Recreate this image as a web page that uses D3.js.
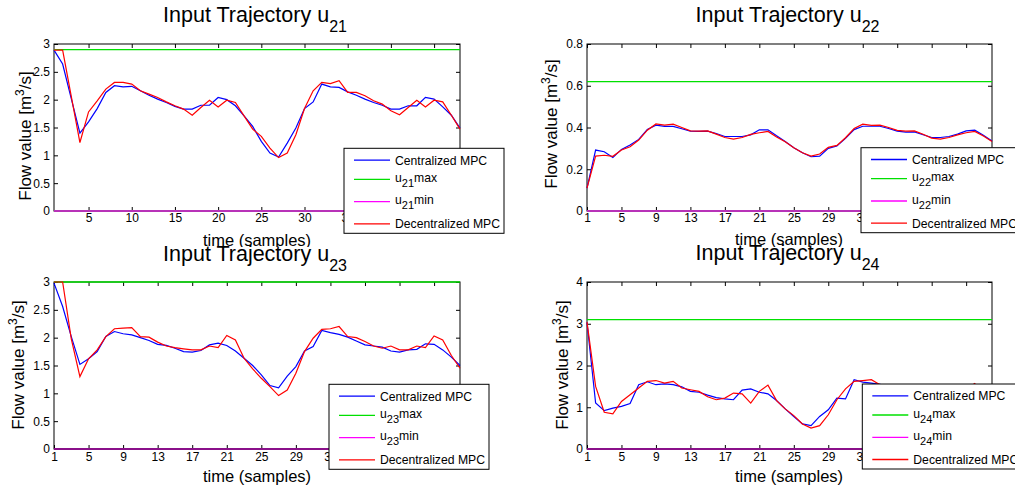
<!DOCTYPE html>
<html>
<head>
<meta charset="utf-8">
<script src="https://cdn.jsdelivr.net/npm/d3@7"></script>
<style>
  body { margin: 0; background: #fff; }
  svg { display: block; font-family: "Liberation Sans", Arial, Helvetica, sans-serif; }
</style>
</head>
<body>
<svg id="chart" width="1015" height="488"></svg>
<script>
// values, one entry per sample (1..48)
const cen21 = [2.89, 2.64, 2.02, 1.40, 1.60, 1.84, 2.13, 2.25, 2.23, 2.24, 2.16, 2.08, 2.01, 1.95, 1.88, 1.83,
  1.83, 1.90, 1.90, 2.04, 2.00, 1.89, 1.71, 1.52, 1.25, 1.04, 0.97, 1.22, 1.49, 1.84, 1.96, 2.28,
  2.23, 2.22, 2.14, 2.08, 2.01, 1.95, 1.90, 1.83, 1.83, 1.89, 1.89, 2.04, 2.01, 1.87, 1.72, 1.49];
const dec21 = [2.89, 2.89, 2.06, 1.23, 1.78, 1.98, 2.19, 2.31, 2.31, 2.28, 2.16, 2.10, 2.04, 1.96, 1.89, 1.83,
  1.72, 1.86, 1.99, 1.87, 1.99, 1.95, 1.71, 1.47, 1.34, 1.13, 0.96, 1.04, 1.37, 1.84, 2.16, 2.31,
  2.29, 2.34, 2.13, 2.13, 2.07, 1.98, 1.92, 1.80, 1.73, 1.86, 1.99, 1.87, 1.99, 1.96, 1.72, 1.47];

const cen22 = [0.110, 0.292, 0.284, 0.256, 0.295, 0.316, 0.343, 0.390, 0.411, 0.405, 0.405, 0.394, 0.383, 0.381, 0.383, 0.371,
  0.357, 0.357, 0.357, 0.365, 0.389, 0.389, 0.360, 0.333, 0.303, 0.279, 0.260, 0.263, 0.300, 0.311, 0.348, 0.390,
  0.406, 0.406, 0.406, 0.395, 0.383, 0.378, 0.379, 0.365, 0.352, 0.352, 0.357, 0.368, 0.384, 0.387, 0.363, 0.335];
const dec22 = [0.110, 0.263, 0.267, 0.262, 0.292, 0.308, 0.340, 0.387, 0.417, 0.411, 0.416, 0.400, 0.384, 0.383, 0.384, 0.368,
  0.352, 0.344, 0.352, 0.367, 0.375, 0.381, 0.354, 0.332, 0.303, 0.279, 0.263, 0.273, 0.305, 0.314, 0.351, 0.395,
  0.416, 0.410, 0.411, 0.400, 0.386, 0.383, 0.384, 0.368, 0.349, 0.344, 0.352, 0.365, 0.375, 0.381, 0.359, 0.333];

const cen23 = [2.98, 2.56, 2.02, 1.52, 1.62, 1.75, 2.02, 2.11, 2.07, 2.05, 2.00, 1.95, 1.88, 1.86, 1.81, 1.75,
  1.74, 1.77, 1.87, 1.90, 1.86, 1.76, 1.63, 1.50, 1.33, 1.14, 1.10, 1.31, 1.48, 1.76, 1.84, 2.13,
  2.09, 2.06, 2.01, 1.94, 1.87, 1.85, 1.83, 1.76, 1.74, 1.78, 1.79, 1.89, 1.88, 1.78, 1.65, 1.50];
const dec23 = [3.00, 3.00, 1.98, 1.30, 1.62, 1.78, 2.02, 2.16, 2.17, 2.18, 2.02, 2.01, 1.92, 1.85, 1.82, 1.80,
  1.78, 1.78, 1.85, 1.82, 2.04, 1.96, 1.63, 1.44, 1.27, 1.12, 0.96, 1.06, 1.36, 1.75, 1.99, 2.15,
  2.16, 2.20, 2.02, 2.00, 1.93, 1.85, 1.81, 1.85, 1.78, 1.78, 1.85, 1.82, 2.03, 1.96, 1.68, 1.45];

const cen24 = [3.03, 1.10, 0.92, 0.98, 1.02, 1.09, 1.54, 1.61, 1.54, 1.56, 1.54, 1.49, 1.38, 1.36, 1.29, 1.23,
  1.20, 1.18, 1.41, 1.44, 1.36, 1.32, 1.16, 0.96, 0.78, 0.60, 0.56, 0.78, 0.94, 1.22, 1.20, 1.66,
  1.60, 1.58, 1.55, 1.50, 1.42, 1.38, 1.35, 1.28, 1.22, 1.25, 1.30, 1.30, 1.45, 1.48, 1.30, 1.00];
const dec24 = [3.04, 1.50, 0.88, 0.84, 1.14, 1.30, 1.46, 1.62, 1.64, 1.58, 1.62, 1.46, 1.42, 1.38, 1.25, 1.18,
  1.22, 1.34, 1.32, 1.10, 1.38, 1.53, 1.16, 0.96, 0.80, 0.60, 0.50, 0.56, 0.82, 1.18, 1.44, 1.62,
  1.64, 1.66, 1.54, 1.48, 1.40, 1.36, 1.30, 1.22, 1.18, 1.26, 1.34, 1.28, 1.45, 1.57, 1.25, 0.98];

const inputNames = ['21', '22', '23', '24'];
const uMax = [2.9, 0.62, 3.0, 3.1];
const uMin = [0, 0, 0, 0];
const legendLabels = ['Centralized MPC', 'max', 'min', 'Decentralized MPC'];

const xTicksBy5 = [5, 10, 15, 20, 25, 30, 35, 40, 45];
const xTicksBy4 = [1, 5, 9, 13, 17, 21, 25, 29, 33, 37, 41, 45];
const yTicks3 = [0, 0.5, 1, 1.5, 2, 2.5, 3];
const yTicks08 = [0, 0.2, 0.4, 0.6, 0.8];
const yTicks4 = [0, 1, 2, 3, 4];

const svg = d3.select('#chart');

const panels = [
  {i: 0, cen: cen21, dec: dec21, yMax: 3, yTicks: yTicks3, xTicks: xTicksBy5,
   box: [54, 44, 460, 211], titleY: 22, ylab: [31, 136], xlab: [257, 246], leg: [344, 148.3], pad: 2, minColor: '#b833b8'},
  {i: 1, cen: cen22, dec: dec22, yMax: 0.8, yTicks: yTicks08, xTicks: xTicksBy4,
   box: [587, 44, 992, 211], titleY: 22, ylab: [557, 124], xlab: [789, 245], leg: [861, 147.7], pad: 2, minColor: '#b833b8'},
  {i: 2, cen: cen23, dec: dec23, yMax: 3, yTicks: yTicks3, xTicks: xTicksBy4,
   box: [54, 282, 460, 449], titleY: 261, ylab: [24, 365], xlab: [257, 482], leg: [329, 384.3], pad: 3, minColor: '#8a108a'},
  {i: 3, cen: cen24, dec: dec24, yMax: 4, yTicks: yTicks4, xTicks: xTicksBy4,
   box: [587, 282, 992, 449], titleY: 260, ylab: [568, 365], xlab: [789, 482], leg: [862.3, 384], pad: 3, minColor: '#8a108a'}
];

function drawPanel(p) {
  const [x0, y0, x1, y1] = p.box;
  const name = inputNames[p.i];
  const x = d3.scaleLinear().domain([1, 48]).range([x0, x1]);
  const y = d3.scaleLinear().domain([0, p.yMax]).range([y1, y0]);
  const g = svg.append('g');

  g.append('rect')
    .attr('x', x0).attr('y', y0).attr('width', x1 - x0).attr('height', y1 - y0)
    .attr('fill', '#fff').attr('stroke', '#000').attr('stroke-width', 1);

  const yFmt = d => (p.yMax === 0.8 ? d3.format('.1f')(d).replace(/^0\.0$/, '0') : String(d));

  const axB = g.append('g').attr('transform', `translate(0,${y1})`)
    .call(d3.axisBottom(x).tickValues(p.xTicks).tickSize(-4).tickPadding(p.pad).tickFormat(d3.format('d')));
  const axT = g.append('g').attr('transform', `translate(0,${y0})`)
    .call(d3.axisTop(x).tickValues(p.xTicks).tickSize(-4).tickFormat(''));
  const axL = g.append('g').attr('transform', `translate(${x0},0)`)
    .call(d3.axisLeft(y).tickValues(p.yTicks).tickSize(-4).tickPadding(4).tickFormat(yFmt));
  const axR = g.append('g').attr('transform', `translate(${x1},0)`)
    .call(d3.axisRight(y).tickValues(p.yTicks).tickSize(-4).tickFormat(''));
  [axB, axT, axL, axR].forEach(a => {
    a.select('.domain').remove();
    a.attr('font-family', null).attr('font-size', null);
    a.selectAll('text').attr('font-size', 12).attr('fill', '#000');
    a.selectAll('line').attr('stroke', '#000');
  });

  const line = d3.line().x((d, k) => x(k + 1)).y(d => y(d));

  g.append('path').datum(p.cen).attr('d', line)
    .attr('fill', 'none').attr('stroke', '#0000ff').attr('stroke-width', 1.2);
  g.append('line')
    .attr('x1', x(1)).attr('x2', x(48)).attr('y1', y(uMax[p.i])).attr('y2', y(uMax[p.i]))
    .attr('stroke', '#00e000').attr('stroke-width', 1.3);
  g.append('line')
    .attr('x1', x(1)).attr('x2', x(48)).attr('y1', y(uMin[p.i])).attr('y2', y(uMin[p.i]))
    .attr('stroke', p.minColor).attr('stroke-width', 2.2);
  g.append('path').datum(p.dec).attr('d', line)
    .attr('fill', 'none').attr('stroke', '#ff0000').attr('stroke-width', 1.2);

  // title with subscript
  const t = g.append('text')
    .attr('x', (x0 + x1) / 2 - 2).attr('y', p.titleY)
    .attr('text-anchor', 'middle').attr('font-size', 21.5).attr('fill', '#000');
  t.append('tspan').text('Input Trajectory u');
  t.append('tspan').attr('dy', 10).attr('font-size', 16).text(name);

  // y label with superscript
  const yl = g.append('text')
    .attr('transform', `translate(${p.ylab[0]},${p.ylab[1]}) rotate(-90)`)
    .attr('text-anchor', 'middle').attr('font-size', 17).attr('fill', '#000');
  yl.append('tspan').text('Flow value [m');
  yl.append('tspan').attr('dy', -7).attr('font-size', 12).text('3');
  yl.append('tspan').attr('dy', 7).text('/s]');

  g.append('text')
    .attr('x', p.xlab[0]).attr('y', p.xlab[1])
    .attr('text-anchor', 'middle').attr('font-size', 16.5).attr('fill', '#000')
    .text('time (samples)');

  // legend
  const [lx, ly] = p.leg;
  const lg = g.append('g');
  lg.append('rect').attr('x', lx).attr('y', ly).attr('width', 160).attr('height', 85)
    .attr('fill', '#fff').attr('stroke', '#000').attr('stroke-width', 1);
  const rows = [
    {dy: 11.8, color: '#0000ff', label: legendLabels[0], sub: false},
    {dy: 31, color: '#00e000', label: legendLabels[1], sub: true},
    {dy: 53.3, color: '#ff00ff', label: legendLabels[2], sub: true},
    {dy: 75.5, color: '#ff0000', label: legendLabels[3], sub: false}
  ];
  rows.forEach(r => {
    const ry = ly + r.dy;
    lg.append('line').attr('x1', lx + 10).attr('x2', lx + 46).attr('y1', ry).attr('y2', ry)
      .attr('stroke', r.color).attr('stroke-width', 1.3);
    const tx = lg.append('text').attr('x', lx + 51).attr('font-size', 12.2).attr('fill', '#000');
    if (r.sub) {
      tx.attr('y', ry + 2.5);
      tx.append('tspan').text('u');
      tx.append('tspan').attr('dy', 5).attr('font-size', 11).text(name);
      tx.append('tspan').attr('dy', -5).text(r.label);
    } else {
      tx.attr('y', ry + 4.5).text(r.label);
    }
  });
}

drawPanel(panels[0]);
drawPanel(panels[1]);
// lower figures sit over the bottom of the upper x labels
svg.append('rect').attr('x', 0).attr('y', 247).attr('width', 1015).attr('height', 241).attr('fill', '#fff');
drawPanel(panels[2]);
drawPanel(panels[3]);
</script>
</body>
</html>
